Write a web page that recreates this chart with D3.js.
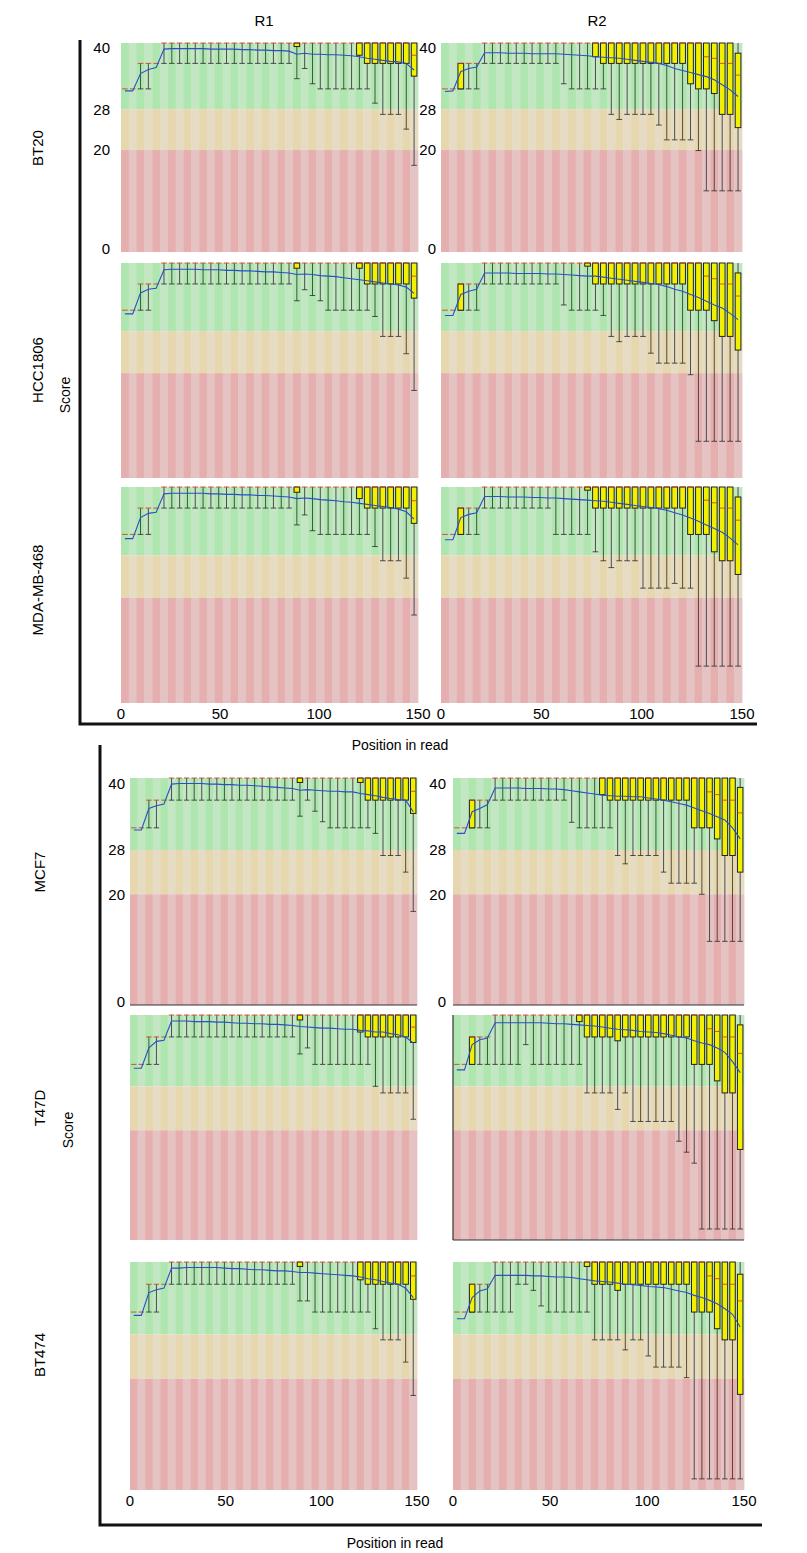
<!DOCTYPE html>
<html>
<head>
<meta charset="utf-8">
<script src="https://cdn.jsdelivr.net/npm/d3@7"></script>
<style>
  body { margin: 0; background: #fff; }
</style>
</head>
<body>
<div class="chart"></div>
<script>
// FastQC style per-base quality bins (151 bp reads)
const bins = ["1","2","3","4","5","6","7","8","9","10-14","15-19","20-24","25-29","30-34","35-39",
  "40-44","45-49","50-54","55-59","60-64","65-69","70-74","75-79","80-84","85-89","90-94","95-99",
  "100-104","105-109","110-114","115-119","120-124","125-129","130-134","135-139","140-144","145-149","150-151"];

const readNames = ["R1", "R2"];
const cellLinesTop = ["BT20", "HCC1806", "MDA-MB-468"];
const cellLinesBottom = ["MCF7", "T47D", "BT474"];
const yTickValues = [0, 20, 28, 40];
const xTickValues = [0, 50, 100, 150];

// ---------- R1 ----------
const bt20R1Mean = [31.6,31.6,35.0,35.8,36.2,39.8,39.9,39.9,39.9,39.9, 39.9,39.8,39.8,39.8,39.8,39.7,39.7,39.6,39.6,39.5, 39.5,39.4,38.8,39.0,38.8,38.8,38.7,38.7,38.6,38.5, 38.3,38.0,37.8,37.6,37.4,37.3,37.0,35.7];
const bt20R1Lo   = [32,32,32,32,37,37,37,37,37,37, 37,37,37,37,37,37,37,37,37,37, 37,37,34,36,33,32,32,32,32,32, 32,32,29.2,27,27,27,24.1,17];
const bt20R1Q1   = [32,32,37,37,37,41,41,41,41,41, 41,41,41,41,41,41,41,41,41,41, 41,41,40.3,41,41,41,41,41,41,41, 38.6,37,37,37,37,37,37,34.5];
const bt20R1Med  = [32,32,37,37,37,41,41,41,41,41, 41,41,41,41,41,41,41,41,41,41, 41,41,41,41,41,41,41,41,41,41, 41,41,41,41,41,41,41,38.6];
const bt20R1Q3   = [32,32,37,37,37,41,41,41,41,41, 41,41,41,41,41,41,41,41,41,41, 41,41,41,41,41,41,41,41,41,41, 41,41,41,41,41,41,41,41];
const bt20R1Hi   = [32,32,37,37,37,41,41,41,41,41, 41,41,41,41,41,41,41,41,41,41, 41,41,41,41,41,41,41,41,41,41, 41,41,41,41,41,41,41,41];

const hccR1Mean = [31.3,31.3,35.3,36.0,36.2,39.7,39.8,39.8,39.8,39.8, 39.7,39.7,39.7,39.6,39.6,39.5,39.5,39.4,39.3,39.3, 39.2,39.1,38.8,38.9,38.8,38.6,38.5,38.4,38.2,38.0, 37.8,37.6,37.4,37.2,37.0,36.8,36.4,35.2];
const hccR1Lo   = [32,32,32,32,37,37,37,37,37,37, 37,37,37,37,37,37,37,37,37,37, 37,37,33.8,35.9,34.8,33.8,32,32,32,32, 32,32,30.8,27,27,27,23.7,16.7];
const hccR1Q1   = [32,32,37,37,37,41,41,41,41,41, 41,41,41,41,41,41,41,41,41,41, 41,41,40,41,41,41,41,41,41,41, 40,37,37,37,37,37,37,34.3];
const hccR1Med  = [32,32,37,37,37,41,41,41,41,41, 41,41,41,41,41,41,41,41,41,41, 41,41,41,41,41,41,41,41,41,41, 41,41,41,41,41,41,41,38.5];
const hccR1Q3   = [32,32,37,37,37,41,41,41,41,41, 41,41,41,41,41,41,41,41,41,41, 41,41,41,41,41,41,41,41,41,41, 41,41,41,41,41,41,41,41];
const hccR1Hi   = [32,32,37,37,37,41,41,41,41,41, 41,41,41,41,41,41,41,41,41,41, 41,41,41,41,41,41,41,41,41,41, 41,41,41,41,41,41,41,41];

const mdaR1Mean = [31.2,31.2,35.2,36.0,36.2,39.7,39.8,39.8,39.8,39.8, 39.8,39.7,39.7,39.6,39.6,39.5,39.5,39.4,39.4,39.3, 39.2,39.1,38.8,38.9,38.8,38.6,38.5,38.4,38.2,38.1, 37.9,37.7,37.5,37.3,37.1,36.8,36.3,34.9];
const mdaR1Lo   = [32,32,32,32,37,37,37,37,37,37, 37,37,37,37,37,37,37,37,37,37, 37,37,33.8,35.7,32.7,32,32,32,32,32, 32,32,29.7,27,27,27,23.7,16.7];
const mdaR1Q1   = [32,32,37,37,37,41,41,41,41,41, 41,41,41,41,41,41,41,41,41,41, 41,41,40,41,41,41,41,41,41,41, 38.8,37,37,37,37,37,37,34.1];
const mdaR1Med  = [32,32,37,37,37,41,41,41,41,41, 41,41,41,41,41,41,41,41,41,41, 41,41,41,41,41,41,41,41,41,41, 41,41,41,41,41,41,41,38.4];
const mdaR1Q3   = [32,32,37,37,37,41,41,41,41,41, 41,41,41,41,41,41,41,41,41,41, 41,41,41,41,41,41,41,41,41,41, 41,41,41,41,41,41,41,41];
const mdaR1Hi   = [32,32,37,37,37,41,41,41,41,41, 41,41,41,41,41,41,41,41,41,41, 41,41,41,41,41,41,41,41,41,41, 41,41,41,41,41,41,41,41];

const mcf7R1Mean = [31.6,31.6,35.5,36.0,36.3,39.9,40.0,40.0,40.0,40.0, 39.9,39.9,39.8,39.8,39.7,39.7,39.6,39.5,39.4,39.3, 39.2,39.1,38.8,38.9,38.8,38.7,38.6,38.6,38.5,38.5, 38.2,38.0,37.8,37.5,37.3,37.1,37.0,34.9];
const mcf7R1Lo   = [32,32,32,32,37,37,37,37,37,37, 37,37,37,37,37,37,37,37,37,37, 37,37,34.1,37,35,33.1,32,32,32,32, 32,32,31,27,27,27,24,16.9];
const mcf7R1Q1   = [32,32,37,37,37,41,41,41,41,41, 41,41,41,41,41,41,41,41,41,41, 41,41,40.2,41,41,41,41,41,41,41, 40.2,37,37,37,37,37,37,34.6];
const mcf7R1Med  = [32,32,37,37,37,41,41,41,41,41, 41,41,41,41,41,41,41,41,41,41, 41,41,41,41,41,41,41,41,41,41, 41,41,41,41,41,41,41,38.6];
const mcf7R1Q3   = [32,32,37,37,37,41,41,41,41,41, 41,41,41,41,41,41,41,41,41,41, 41,41,41,41,41,41,41,41,41,41, 41,41,41,41,41,41,41,41];
const mcf7R1Hi   = [32,32,37,37,37,41,41,41,41,41, 41,41,41,41,41,41,41,41,41,41, 41,41,41,41,41,41,41,41,41,41, 41,41,41,41,41,41,41,41];

const t47dR1Mean = [31.3,31.3,35.0,36.2,36.4,39.9,39.9,39.9,39.8,39.8, 39.8,39.7,39.7,39.6,39.5,39.5,39.4,39.4,39.3,39.3, 39.2,39.1,38.9,38.8,38.7,38.6,38.6,38.5,38.4,38.4, 38.2,38.1,37.9,37.9,37.6,37.4,37.0,35.9];
const t47dR1Lo   = [32,32,32,32,37,37,37,37,37,37, 37,37,37,37,37,37,37,37,37,37, 37,37,33.9,35,32,32,32,32,32,32, 32,32,28,26.8,26.8,26.8,26.8,22];
const t47dR1Q1   = [32,32,37,37,37,41,41,41,41,41, 41,41,41,41,41,41,41,41,41,41, 41,41,40.1,41,41,41,41,41,41,41, 37.9,37,37,37,37,37,37,36];
const t47dR1Med  = [32,32,37,37,37,41,41,41,41,41, 41,41,41,41,41,41,41,41,41,41, 41,41,41,41,41,41,41,41,41,41, 41,41,41,41,41,41,41,38.8];
const t47dR1Q3   = [32,32,37,37,37,41,41,41,41,41, 41,41,41,41,41,41,41,41,41,41, 41,41,41,41,41,41,41,41,41,41, 41,41,41,41,41,41,41,41];
const t47dR1Hi   = [32,32,37,37,37,41,41,41,41,41, 41,41,41,41,41,41,41,41,41,41, 41,41,41,41,41,41,41,41,41,41, 41,41,41,41,41,41,41,41];

const bt474R1Mean = [31.4,31.4,35.5,36.0,36.3,39.9,39.9,40.0,40.0,40.0, 40.0,40.0,39.9,39.8,39.8,39.7,39.6,39.6,39.5,39.4, 39.4,39.3,39.1,39.1,39.0,38.9,38.8,38.7,38.6,38.5, 38.3,38.0,37.8,37.5,37.2,37.0,36.3,34.6];
const bt474R1Lo   = [32,32,32,32,37,37,37,37,37,37, 37,37,37,37,37,37,37,37,37,37, 37,37,34,34,32,32,32,32,32,32, 32,32,29,27,27,27,23,17];
const bt474R1Q1   = [32,32,37,37,37,41,41,41,41,41, 41,41,41,41,41,41,41,41,41,41, 41,41,40.2,41,41,41,41,41,41,41, 37.8,37,37,37,37,37,37,34.3];
const bt474R1Med  = [32,32,37,37,37,41,41,41,41,41, 41,41,41,41,41,41,41,41,41,41, 41,41,41,41,41,41,41,41,41,41, 41,41,41,41,41,41,41,38.5];
const bt474R1Q3   = [32,32,37,37,37,41,41,41,41,41, 41,41,41,41,41,41,41,41,41,41, 41,41,41,41,41,41,41,41,41,41, 41,41,41,41,41,41,41,41];
const bt474R1Hi   = [32,32,37,37,37,41,41,41,41,41, 41,41,41,41,41,41,41,41,41,41, 41,41,41,41,41,41,41,41,41,41, 41,41,41,41,41,41,41,41];

// ---------- R2 ----------
const bt20R2Mean = [31.5,31.6,35.4,36.0,36.3,39.1,39.1,39.1,39.0,39.0, 39.0,38.9,38.9,38.9,38.9,38.8,38.7,38.6,38.5,38.3, 38.2,38.1,38.0,37.8,37.6,37.4,37.2,37.0,36.6,36.0, 35.6,35.2,34.8,34.4,33.8,32.8,31.8,30.5];
const bt20R2Lo   = [32,32,32,32,32,37,37,37,37,37, 37,37,37,37,37,33,32,32,32,32, 32,27,26,27,27,27,27,24.9,22,22, 22,22,19.9,12,12,12,12,12];
const bt20R2Q1   = [32,32,32,37,37,41,41,41,41,41, 41,41,41,41,41,41,41,41,41,38.3, 37,37,37,37,37,37,37,37,37,37, 37,33,32,32,31.1,27,27,24.4];
const bt20R2Med  = [32,32,37,37,37,41,41,41,41,41, 41,41,41,41,41,41,41,41,41,41, 41,41,41,41,41,41,41,41,41,41, 41,41,41,38.3,38,37,37,34.7];
const bt20R2Q3   = [32,32,37,37,37,41,41,41,41,41, 41,41,41,41,41,41,41,41,41,41, 41,41,41,41,41,41,41,41,41,41, 41,41,41,41,41,41,41,39];
const bt20R2Hi   = [32,32,37,37,37,41,41,41,41,41, 41,41,41,41,41,41,41,41,41,41, 41,41,41,41,41,41,41,41,41,41, 41,41,41,41,41,41,41,41];

const hccR2Mean = [31.0,31.0,35.0,35.6,36.0,39.1,39.1,39.1,39.1,39.0, 39.0,39.0,39.0,38.9,38.9,38.8,38.7,38.6,38.5,38.5, 38.3,38.1,37.9,37.7,37.5,37.3,37.1,36.9,36.5,36.0, 35.6,35.0,34.4,33.7,33.0,32.4,31.4,30.2];
const hccR2Lo   = [32,32,32,32,32,37,37,37,37,37, 37,37,37,37,37,33,32,32,32,32, 31,27,26,27,27,27,23.8,21.9,21.9,21.9, 21.9,19.7,7,7,7,7,7,7];
const hccR2Q1   = [32,32,32,37,37,41,41,41,41,41, 41,41,41,41,41,41,41,41,40.4,37, 37,37,37,37,37,37,37,37,37,37, 37,32,32,32,30,27,27,24.4];
const hccR2Med  = [32,32,37,37,37,41,41,41,41,41, 41,41,41,41,41,41,41,41,41,41, 41,41,41,41,41,41,41,41,41,41, 41,41,41,38.5,38,37,37,34.7];
const hccR2Q3   = [32,32,37,37,37,41,41,41,41,41, 41,41,41,41,41,41,41,41,41,41, 41,41,41,41,41,41,41,41,41,41, 41,41,41,41,41,41,41,39.1];
const hccR2Hi   = [32,32,37,37,37,41,41,41,41,41, 41,41,41,41,41,41,41,41,41,41, 41,41,41,41,41,41,41,41,41,41, 41,41,41,41,41,41,41,41];

const mdaR2Mean = [31.0,31.0,35.2,35.8,36.1,39.2,39.2,39.2,39.1,39.1, 39.1,39.0,39.0,38.9,38.9,38.8,38.7,38.6,38.5,38.4, 38.3,38.1,37.9,37.7,37.5,37.3,37.1,36.9,36.6,36.1, 35.7,35.1,34.5,33.8,33.1,32.4,31.3,30.0];
const mdaR2Lo   = [32,32,32,32,32,37,37,37,37,37, 37,37,37,37,32,32,32,32,32,28.7, 27,25.7,27,27,27,21.8,21.8,21.8,21.8,22.7, 21.8,21.8,7,7,7,7,7,7];
const mdaR2Q1   = [32,32,32,37,37,41,41,41,41,41, 41,41,41,41,41,41,41,41,40.4,37, 37,37,37,37,37,37,37,37,37,37, 37,32,32,32,28.7,27,27,24.4];
const mdaR2Med  = [32,32,37,37,37,41,41,41,41,41, 41,41,41,41,41,41,41,41,41,41, 41,41,41,41,41,41,41,41,41,41, 41,41,41,38.5,38,37,37,34.7];
const mdaR2Q3   = [32,32,37,37,37,41,41,41,41,41, 41,41,41,41,41,41,41,41,41,41, 41,41,41,41,41,41,41,41,41,41, 41,41,41,41,41,41,41,39.1];
const mdaR2Hi   = [32,32,37,37,37,41,41,41,41,41, 41,41,41,41,41,41,41,41,41,41, 41,41,41,41,41,41,41,41,41,41, 41,41,41,41,41,41,41,41];

const mcf7R2Mean = [31.0,31.0,34.9,35.5,36.2,39.2,39.2,39.2,39.2,39.1, 39.1,39.1,39.0,39.0,38.9,38.7,38.5,38.3,38.1,37.9, 37.8,37.7,37.7,37.6,37.6,37.4,37.2,37.0,36.7,36.4, 36.1,35.6,35.1,34.6,34.0,33.4,32.0,30.0];
const mcf7R2Lo   = [32,32,32,32,32,37,37,37,37,37, 37,37,37,37,37,33,32,32,32,32, 32,27,25.5,27,27,27,27,24,22,22, 22,22,20,11.5,11.5,11.5,11.5,11.5];
const mcf7R2Q1   = [32,32,32,37,37,41,41,41,41,41, 41,41,41,41,41,41,41,41,41,38, 37,37,37,37,37,37,37,37,37,37, 37,32,32,32,30,27,27,24];
const mcf7R2Med  = [32,32,37,37,37,41,41,41,41,41, 41,41,41,41,41,41,41,41,41,41, 41,41,41,41,41,41,41,41,41,41, 41,41,41,38.5,38,37,37,34.7];
const mcf7R2Q3   = [32,32,37,37,37,41,41,41,41,41, 41,41,41,41,41,41,41,41,41,41, 41,41,41,41,41,41,41,41,41,41, 41,41,41,41,41,41,41,39.3];
const mcf7R2Hi   = [32,32,37,37,37,41,41,41,41,41, 41,41,41,41,41,41,41,41,41,41, 41,41,41,41,41,41,41,41,41,41, 41,41,41,41,41,41,41,41];

const t47dR2Mean = [31.0,31.0,35.6,36.5,36.8,39.6,39.6,39.6,39.6,39.6, 39.6,39.6,39.5,39.4,39.4,39.3,39.2,39.1,39.0,38.8, 38.6,38.4,38.3,38.2,38.0,37.9,37.8,37.6,37.3,37.0, 36.8,36.3,35.9,35.6,35.0,34.2,32.5,30.5];
const t47dR2Lo   = [32,32,32,32,32,32,32,32,32,35.6, 32,32,32,32,32,32,32,26.8,26.8,26.8, 26.8,23.8,26.8,21.6,21.6,21.6,21.6,21.6,21.6,18, 16,14,2,2,2,2,2,2];
const t47dR2Q1   = [32,32,32,37,37,41,41,41,41,41, 41,41,41,41,41,41,39.8,37,37,37, 37,36.3,37,37,37,37,37,37,37,37, 37,32,32,32,29,26.8,26.8,16.5];
const t47dR2Med  = [32,32,37,37,37,41,41,41,41,41, 41,41,41,41,41,41,41,41,41,41, 41,41,41,41,41,41,41,41,41,41, 41,41,41,38.5,38,37,37,34];
const t47dR2Q3   = [32,32,37,37,37,41,41,41,41,41, 41,41,41,41,41,41,41,41,41,41, 41,41,41,41,41,41,41,41,41,41, 41,41,41,41,41,41,41,39.2];
const t47dR2Hi   = [32,32,37,37,37,41,41,41,41,41, 41,41,41,41,41,41,41,41,41,41, 41,41,41,41,41,41,41,41,41,41, 41,41,41,41,41,41,41,41];

const bt474R2Mean = [30.8,30.8,34.6,35.8,36.2,38.6,38.6,38.6,38.6,38.6, 38.5,38.5,38.4,38.3,38.3,38.2,38.0,37.8,37.6,37.5, 37.4,37.2,37.0,36.9,36.8,36.6,36.5,36.4,36.1,35.8, 35.5,35.0,34.6,34.1,33.5,32.6,31.6,29.3];
const bt474R2Lo   = [32,32,32,32,32,32,32,32,37,37, 35.9,33.1,32,32,32,32,32,32,27,27, 27,27,25.2,27,27,24.1,22.1,22.1,22.1,22.1, 20.2,2,2,2,2,2,2,2];
const bt474R2Q1   = [32,32,32,37,37,41,41,41,41,41, 41,41,41,41,41,41,41,40.2,37,37, 37,35.9,37,37,37,37,37,37,37,37, 37,32,32,32,29,27,27,17.2];
const bt474R2Med  = [32,32,37,37,37,41,41,41,41,41, 41,41,41,41,41,41,41,41,41,41, 41,41,41,41,41,41,41,41,41,41, 41,41,41,38.5,38,37,37,34];
const bt474R2Q3   = [32,32,37,37,37,41,41,41,41,41, 41,41,41,41,41,41,41,41,41,41, 41,41,41,41,41,41,41,41,41,41, 41,41,41,41,41,41,41,38.8];
const bt474R2Hi   = [32,32,37,37,37,41,41,41,41,41, 41,41,41,41,41,41,41,41,41,41, 41,41,41,41,41,41,41,41,41,41, 41,41,41,41,41,41,41,41];

const series = {
  "BT20":       [[bt20R1Mean, bt20R1Lo, bt20R1Q1, bt20R1Med, bt20R1Q3, bt20R1Hi], [bt20R2Mean, bt20R2Lo, bt20R2Q1, bt20R2Med, bt20R2Q3, bt20R2Hi]],
  "HCC1806":    [[hccR1Mean, hccR1Lo, hccR1Q1, hccR1Med, hccR1Q3, hccR1Hi], [hccR2Mean, hccR2Lo, hccR2Q1, hccR2Med, hccR2Q3, hccR2Hi]],
  "MDA-MB-468": [[mdaR1Mean, mdaR1Lo, mdaR1Q1, mdaR1Med, mdaR1Q3, mdaR1Hi], [mdaR2Mean, mdaR2Lo, mdaR2Q1, mdaR2Med, mdaR2Q3, mdaR2Hi]],
  "MCF7":       [[mcf7R1Mean, mcf7R1Lo, mcf7R1Q1, mcf7R1Med, mcf7R1Q3, mcf7R1Hi], [mcf7R2Mean, mcf7R2Lo, mcf7R2Q1, mcf7R2Med, mcf7R2Q3, mcf7R2Hi]],
  "T47D":       [[t47dR1Mean, t47dR1Lo, t47dR1Q1, t47dR1Med, t47dR1Q3, t47dR1Hi], [t47dR2Mean, t47dR2Lo, t47dR2Q1, t47dR2Med, t47dR2Q3, t47dR2Hi]],
  "BT474":      [[bt474R1Mean, bt474R1Lo, bt474R1Q1, bt474R1Med, bt474R1Q3, bt474R1Hi], [bt474R2Mean, bt474R2Lo, bt474R2Q1, bt474R2Med, bt474R2Q3, bt474R2Hi]]
};

const width = 807, height = 1553;
const labelFont = "'Liberation Sans Narrow', 'Liberation Sans', Arial, sans-serif";
const tickFont = "'Liberation Sans', Arial, sans-serif";

const zones = [
  { lo: 28, hi: 41, c: ["rgb(175,230,175)", "rgb(195,230,195)"] },
  { lo: 20, hi: 28, c: ["rgb(230,215,175)", "rgb(230,220,195)"] },
  { lo: 0,  hi: 20, c: ["rgb(230,175,175)", "rgb(230,195,195)"] }
];

const svg = d3.select(".chart").append("svg")
  .attr("width", width).attr("height", height)
  .style("display", "block");

// two figure blocks
const groups = [
  { lines: cellLinesTop, cols: [[121, 418], [441, 742]], rows: [[43, 252], [263, 478], [487, 703]],
    yLabX: [110, 436], bracket: { x: 80, y0: 40, y1: 724, x1: 757 }, rowLabX: 38, scoreX: 65, scoreY: 395,
    rowLabY: [148, 370, 590], axisTitleY: 750 },
  { lines: cellLinesBottom, cols: [[130, 417], [453, 744]], rows: [[778, 1005], [1015, 1240], [1262, 1490]],
    yLabX: [125, 446], bracket: { x: 100, y0: 745, y1: 1525, x1: 762 }, rowLabX: 40, scoreX: 68, scoreY: 1130,
    rowLabY: [872, 1108, 1355], axisTitleY: 1548 }
];

function drawPanel(g, x0, x1, y0, y1, d) {
  const [mean, lo, q1, med, q3, hi] = d;
  const x = d3.scaleBand().domain(bins).range([x0, x1]);
  const y = d3.scaleLinear().domain([0, 41]).range([y1, y0]);
  const bw = x.bandwidth() * 0.72;
  const cx = b => x(b) + x.bandwidth() / 2;
  const rows = bins.map((b, i) => ({ b, mean: mean[i], lo: lo[i], q1: q1[i], med: med[i], q3: q3[i], hi: hi[i] }));

  zones.forEach(z => {
    g.append("g").selectAll("rect").data(bins).join("rect")
      .attr("x", b => x(b)).attr("width", x.bandwidth() + 0.4)
      .attr("y", y(z.hi)).attr("height", y(z.lo) - y(z.hi))
      .attr("fill", (b, i) => z.c[i % 2]);
  });

  const wk = g.append("g").attr("stroke", "#2b2b2b").attr("stroke-opacity", 0.8).attr("stroke-width", 1);
  wk.selectAll("line.v").data(rows.filter(r => r.hi > r.lo)).join("line")
    .attr("x1", r => cx(r.b)).attr("x2", r => cx(r.b))
    .attr("y1", r => y(r.lo)).attr("y2", r => y(r.hi));
  wk.selectAll("line.t").data(rows.filter(r => r.hi > r.lo)).join("line")
    .attr("x1", r => cx(r.b) - bw / 2).attr("x2", r => cx(r.b) + bw / 2)
    .attr("y1", r => y(r.lo)).attr("y2", r => y(r.lo));

  g.append("g").selectAll("rect").data(rows.filter(r => r.q3 > r.q1)).join("rect")
    .attr("x", r => cx(r.b) - bw / 2).attr("width", bw)
    .attr("y", r => y(r.q3)).attr("height", r => y(r.q1) - y(r.q3))
    .attr("fill", "rgb(240,240,0)").attr("stroke", "#222").attr("stroke-width", 1);

  g.append("g").selectAll("line").data(rows).join("line")
    .attr("x1", r => cx(r.b) - bw / 2).attr("x2", r => cx(r.b) + bw / 2)
    .attr("y1", r => y(r.med)).attr("y2", r => y(r.med))
    .attr("stroke", "rgb(205,60,30)").attr("stroke-opacity", 0.85).attr("stroke-width", 1);

  g.append("path").datum(rows)
    .attr("fill", "none").attr("stroke", "rgb(40,80,200)").attr("stroke-width", 1.1)
    .attr("d", d3.line().x(r => cx(r.b)).y(r => y(r.mean)));

  return { x, y };
}

readNames.forEach((r, i) => {
  svg.append("text").attr("x", [264, 597][i]).attr("y", 26)
    .attr("text-anchor", "middle").style("font", `15px ${tickFont}`).text(r);
});

groups.forEach((grp, gi) => {
  grp.lines.forEach((name, ri) => {
    const [y0, y1] = grp.rows[ri];
    grp.cols.forEach(([x0, x1], ci) => {
      const g = svg.append("g");
      const { y } = drawPanel(g, x0, x1, y0, y1, series[name][ci]);
      if (ri === 0) {
        g.selectAll("text.yt").data(yTickValues).join("text")
          .attr("x", grp.yLabX[ci]).attr("y", v => v === 0 ? y(0) - 3 : y(v))
          .attr("dy", "0.35em").attr("text-anchor", "end")
          .style("font", `15px ${tickFont}`).text(v => v);
      }
      if (ri === 2) {
        const xl = d3.scaleLinear().domain([0, 150]).range([x0, x1]);
        g.selectAll("text.xt").data(xTickValues).join("text")
          .attr("x", v => xl(v)).attr("y", y1 + 16)
          .attr("text-anchor", "middle")
          .style("font", `15px ${tickFont}`).text(v => v);
      }
    });
    svg.append("text")
      .attr("transform", `translate(${grp.rowLabX},${grp.rowLabY[ri]}) rotate(-90)`)
      .attr("text-anchor", "middle").attr("dy", "0.35em")
      .style("font", `15px ${labelFont}`).text(name);
  });

  // panel frames seen in the lower block
  if (gi === 1) {
    const f = svg.append("g").attr("stroke", "#333").attr("stroke-width", 1.2);
    f.append("line").attr("x1", grp.cols[0][0]).attr("x2", grp.cols[0][1]).attr("y1", grp.rows[0][1]).attr("y2", grp.rows[0][1]);
    f.append("line").attr("x1", grp.cols[1][0]).attr("x2", grp.cols[1][1]).attr("y1", grp.rows[0][1]).attr("y2", grp.rows[0][1]);
    f.append("line").attr("x1", grp.cols[1][0]).attr("x2", grp.cols[1][0]).attr("y1", grp.rows[1][0]).attr("y2", grp.rows[1][1]);
    f.append("line").attr("x1", grp.cols[1][0]).attr("x2", grp.cols[1][1]).attr("y1", grp.rows[1][1]).attr("y2", grp.rows[1][1]);
  }

  const b = grp.bracket;
  svg.append("path")
    .attr("d", `M${b.x},${b.y0}V${b.y1}H${b.x1}`)
    .attr("fill", "none").attr("stroke", "#111").attr("stroke-width", 3);

  svg.append("text")
    .attr("transform", `translate(${grp.scoreX},${grp.scoreY}) rotate(-90)`)
    .attr("text-anchor", "middle").attr("dy", "0.35em")
    .style("font", `14px ${labelFont}`).text("Score");

  svg.append("text").attr("x", gi === 0 ? 400 : 395).attr("y", grp.axisTitleY)
    .attr("text-anchor", "middle").style("font", `14px ${tickFont}`).text("Position in read");
});
</script>
</body>
</html>
